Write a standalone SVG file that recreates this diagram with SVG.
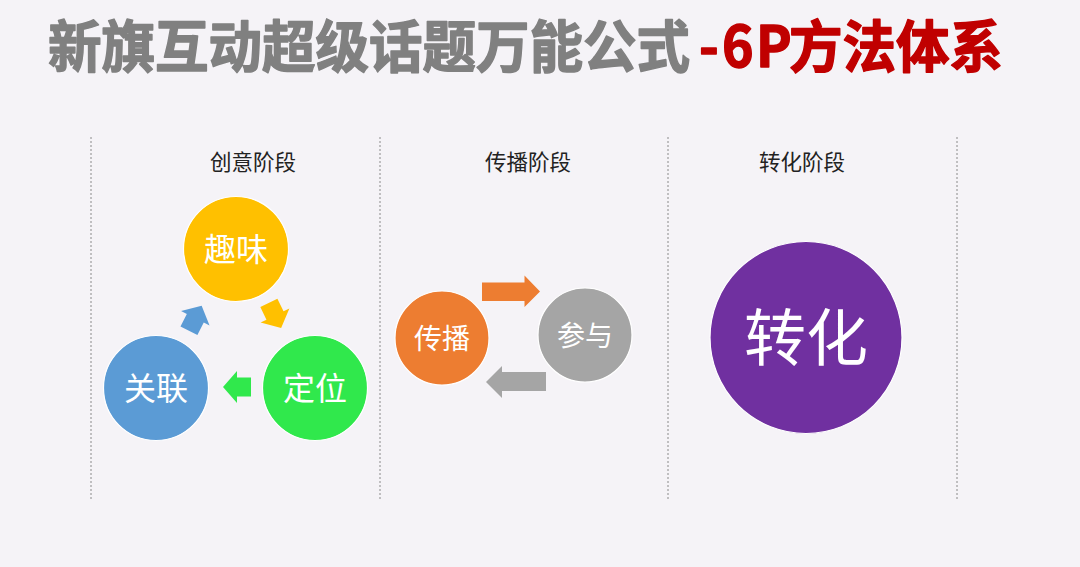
<svg xmlns="http://www.w3.org/2000/svg" width="1080" height="567" viewBox="0 0 1080 567">
  <style>
    .cjk { font-family: "Noto Sans CJK SC", "Noto Sans", sans-serif; }
    .title { font-size: 53.5px; font-weight: 700; stroke-width: 1.4; stroke-linejoin: round; }
    .stage { font-size: 21.5px; fill: #222222; text-anchor: middle; }
    .node-text { fill: #ffffff; text-anchor: middle; }
    .divider { stroke: #8a8a8a; stroke-width: 1; stroke-dasharray: 2 2; fill: none; }
    .node { stroke: #ffffff; stroke-width: 1.2; }
  </style>
  <defs>
    <path id="arrowShape" d="M-14,-9.5 L0,-9.5 L0,-16 L14,0 L0,16 L0,9.5 L-14,9.5 Z"/>
  </defs>
  <rect x="0" y="0" width="1080" height="567" fill="#F5F3F7"/>

  <g id="title">
    <text class="cjk title" transform="translate(0,67) scale(1,1.05)" y="0"><tspan x="48" fill="#808080" stroke="#808080">新旗互动超级话题万能公式</tspan><tspan x="699 722 756" fill="#C00000" stroke="#C00000">-6P</tspan><tspan x="789" fill="#C00000" stroke="#C00000">方法体系</tspan></text>
  </g>

  <g id="dividers">
    <line class="divider" x1="91" y1="137" x2="91" y2="500"/>
    <line class="divider" x1="380" y1="137" x2="380" y2="500"/>
    <line class="divider" x1="668" y1="137" x2="668" y2="500"/>
    <line class="divider" x1="957" y1="137" x2="957" y2="500"/>
  </g>

  <g id="stage-labels">
    <text class="cjk stage" x="253" y="170">创意阶段</text>
    <text class="cjk stage" x="528" y="170">传播阶段</text>
    <text class="cjk stage" x="802" y="170">转化阶段</text>
  </g>

  <g id="connectors">
    <use href="#arrowShape" fill="#FFC000" transform="translate(275,315.5) rotate(64)"/>
    <use href="#arrowShape" fill="#30E84C" transform="translate(237,387) rotate(180)"/>
    <use href="#arrowShape" fill="#5B9BD5" transform="translate(195.3,318.3) rotate(-63)"/>
    <path fill="#ED7D31" d="M482,282.5 L524.5,282.5 L524.5,275.5 L540,291.5 L524.5,307 L524.5,301 L482,301 Z"/>
    <path fill="#A5A5A5" d="M546,372 L502,372 L502,366 L486,382 L502,398 L502,391 L546,391 Z"/>
  </g>

  <g id="node-quwei">
    <circle class="node" cx="236" cy="249" r="52.5" fill="#FFC000"/>
    <text class="cjk node-text" x="236" y="261" font-size="32">趣味</text>
  </g>
  <g id="node-guanlian">
    <circle class="node" cx="156" cy="388" r="52.5" fill="#5B9BD5"/>
    <text class="cjk node-text" x="156" y="400" font-size="32">关联</text>
  </g>
  <g id="node-dingwei">
    <circle class="node" cx="315" cy="388" r="52.5" fill="#30E84C"/>
    <text class="cjk node-text" x="315" y="400" font-size="32">定位</text>
  </g>
  <g id="node-chuanbo">
    <circle class="node" cx="442" cy="338" r="47" fill="#ED7D31"/>
    <text class="cjk node-text" x="442" y="348.5" font-size="28">传播</text>
  </g>
  <g id="node-canyu">
    <circle class="node" cx="585" cy="335" r="47" fill="#A5A5A5"/>
    <text class="cjk node-text" x="585" y="345.5" font-size="28">参与</text>
  </g>
  <g id="node-zhuanhua">
    <circle class="node" cx="806" cy="337.5" r="96" fill="#7030A0"/>
    <text class="cjk node-text" x="806" y="361" font-size="62">转化</text>
  </g>
</svg>
